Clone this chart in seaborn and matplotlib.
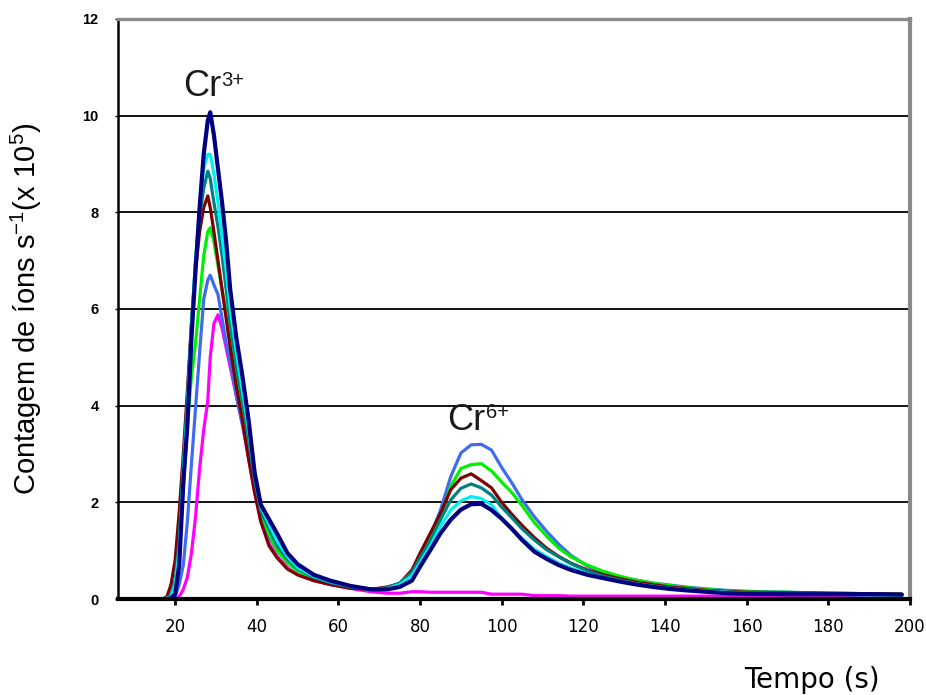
import matplotlib
matplotlib.use("Agg")
import matplotlib.pyplot as plt
import seaborn as sns
import pandas as pd

# ---- data ----
tempo = [17, 18, 19, 20, 21, 22, 23, 24, 25, 26,
         27, 28, 28.6, 29.5, 30.5, 31.5, 32.5, 33.5, 35, 36.5,
         38, 39.5, 41, 43, 45, 47.5, 50, 54, 58, 63,
         68, 72, 75, 78, 80, 82.5, 85, 87.5, 90, 92.5,
         95, 97.5, 100, 102.5, 105, 108, 111, 114, 117, 121,
         125, 129, 133, 137, 141, 145, 150, 155, 160, 170,
         180, 190, 198]

navy = [0, 0, 0.02, 0.1, 0.7, 2.4, 3.6, 5.4, 6.8, 8.1,
        9.2, 9.9, 10.07, 9.6, 8.9, 8.2, 7.4, 6.4, 5.4, 4.6,
        3.7, 2.6, 1.95, 1.65, 1.35, 0.95, 0.72, 0.5, 0.38, 0.27,
        0.2, 0.2, 0.25, 0.38, 0.67, 1.01, 1.36, 1.64, 1.85, 1.96,
        1.97, 1.84, 1.66, 1.45, 1.22, 0.98, 0.83, 0.7, 0.6, 0.5,
        0.43, 0.36, 0.3, 0.25, 0.21, 0.18, 0.15, 0.12, 0.11, 0.1,
        0.1, 0.1, 0.09]

ciano = [0, 0.02, 0.05, 0.3, 1.0, 2.6, 3.9, 5.6, 7.0, 8.1,
         8.9, 9.2, 9.2, 8.8, 8.2, 7.5, 6.8, 6.0, 5.1, 4.3,
         3.5, 2.55, 1.9, 1.55, 1.2, 0.88, 0.65, 0.47, 0.36, 0.26,
         0.2, 0.22, 0.3, 0.48, 0.75, 1.1, 1.5, 1.84, 2.03, 2.12,
         2.08, 1.95, 1.67, 1.45, 1.25, 1.03, 0.88, 0.74, 0.64, 0.52,
         0.43, 0.37, 0.31, 0.26, 0.22, 0.19, 0.16, 0.14, 0.12, 0.11,
         0.1, 0.08, 0.07]

verde_azulado = [0, 0.03, 0.08, 0.4, 1.2, 2.8, 4.1, 5.7, 7.0, 7.9,
                 8.5, 8.85, 8.7, 8.2, 7.7, 7.1, 6.4, 5.7, 4.8, 4.1,
                 3.3, 2.45, 1.82, 1.45, 1.1, 0.82, 0.62, 0.45, 0.34, 0.25,
                 0.2, 0.23, 0.33, 0.55, 0.85, 1.2, 1.64, 2.05, 2.29, 2.38,
                 2.3, 2.15, 1.9, 1.68, 1.45, 1.22, 1.02, 0.87, 0.73, 0.58,
                 0.47, 0.39, 0.32, 0.27, 0.23, 0.2, 0.17, 0.15, 0.13, 0.12,
                 0.11, 0.1, 0.09]

marrom = [0, 0.05, 0.3, 0.8, 1.8, 3.0, 4.3, 5.7, 6.8, 7.6,
          8.1, 8.34, 8.1, 7.6, 7.0, 6.4, 5.8, 5.2, 4.4, 3.7,
          2.9, 2.2, 1.6, 1.1, 0.85, 0.62, 0.5, 0.38, 0.3, 0.22,
          0.2, 0.25, 0.32, 0.6, 0.95, 1.36, 1.77, 2.26, 2.5, 2.59,
          2.45, 2.3, 2.0, 1.75, 1.52, 1.27, 1.05, 0.88, 0.74, 0.6,
          0.5, 0.42, 0.35, 0.3, 0.25, 0.22, 0.18, 0.16, 0.14, 0.13,
          0.12, 0.11, 0.1]

verde = [0, 0.02, 0.05, 0.3, 1.0, 2.3, 3.6, 4.6, 5.3, 6.2,
         7.1, 7.6, 7.68, 7.4, 6.9, 6.4, 5.9, 5.4, 4.6, 3.9,
         3.2, 2.4, 1.75, 1.35, 1.0, 0.75, 0.58, 0.43, 0.33, 0.25,
         0.2, 0.22, 0.32, 0.55, 0.85, 1.25, 1.7, 2.33, 2.7, 2.78,
         2.8, 2.65, 2.42, 2.2, 1.93, 1.58, 1.3, 1.05, 0.87, 0.7,
         0.57, 0.47, 0.39, 0.33, 0.28, 0.24, 0.2, 0.17, 0.15, 0.14,
         0.12, 0.11, 0.1]

azul = [0, 0, 0.02, 0.05, 0.3, 0.7, 1.6, 2.8, 3.95, 5.1,
        6.2, 6.6, 6.7, 6.5, 6.3, 5.8, 5.3, 4.9, 4.2, 3.6,
        3.0, 2.3, 1.7, 1.3, 1.0, 0.76, 0.6, 0.45, 0.35, 0.26,
        0.2, 0.22, 0.3, 0.5, 0.8, 1.3, 1.84, 2.53, 3.02, 3.19,
        3.2, 3.08, 2.72, 2.4, 2.05, 1.7, 1.4, 1.13, 0.9, 0.68,
        0.53, 0.45, 0.39, 0.33, 0.29, 0.25, 0.21, 0.18, 0.16, 0.14,
        0.12, 0.11, 0.1]

magenta = [0, 0, 0, 0, 0.05, 0.2, 0.45, 0.95, 1.7, 2.7,
           3.5, 4.1, 5.0, 5.7, 5.88, 5.6, 5.2, 4.8, 4.2, 3.6,
           2.9, 2.2, 1.6, 1.15, 0.88, 0.65, 0.5, 0.38, 0.3, 0.22,
           0.15, 0.12, 0.12, 0.15, 0.15, 0.14, 0.14, 0.14, 0.14, 0.14,
           0.14, 0.1, 0.1, 0.1, 0.1, 0.07, 0.07, 0.07, 0.06, 0.06,
           0.06, 0.06, 0.06, 0.06, 0.06, 0.06, 0.06, 0.06, 0.06, 0.06,
           0.06, 0.06, 0.06]

series_names = ["magenta", "azul", "verde", "marrom", "verde_azulado", "ciano", "navy"]
series_values = [magenta, azul, verde, marrom, verde_azulado, ciano, navy]
cores = ["#FF00FF", "#3F6BF0", "#00F000", "#7F0000", "#008080", "#00F0F0", "#000080"]
larguras = [2.3, 2.3, 2.3, 2.3, 2.3, 2.3, 3.0]

xticks = [20, 40, 60, 80, 100, 120, 140, 160, 180, 200]
yticks = [0, 2, 4, 6, 8, 10, 12]

# ---- build long table ----
frames = []
for nome, vals in zip(series_names, series_values):
    assert len(vals) == len(tempo)
    frames.append(pd.DataFrame({"t": tempo, "v": vals, "serie": nome}))
df = pd.concat(frames, ignore_index=True)

sns.set_theme(style="white")
plt.rcParams["font.family"] = ["Liberation Sans", "DejaVu Sans"]

fig, ax = plt.subplots(figsize=(9.26, 6.95), dpi=100)
fig.subplots_adjust(left=0.1274, right=0.9827, top=0.9727, bottom=0.1381)

sns.lineplot(data=df, x="t", y="v", hue="serie", hue_order=series_names,
             palette=dict(zip(series_names, cores)), estimator=None,
             legend=False, ax=ax, linewidth=2.3)
for line, lw in zip(ax.lines, larguras):
    line.set_linewidth(lw)
    line.set_solid_joinstyle("round")

ax.set_xlim(6, 200)
ax.set_ylim(0, 12)
ax.set_xticks(xticks)
ax.set_yticks(yticks)
ax.set_xticklabels([str(v) for v in xticks], family=["DejaVu Sans"])
ax.set_yticklabels([str(v) for v in yticks])

ax.set_axisbelow(True)
ax.yaxis.grid(True, color="black", linewidth=1.3)
ax.xaxis.grid(False)

ax.spines["left"].set_color("black")
ax.spines["left"].set_linewidth(1.8)
ax.spines["bottom"].set_color("black")
ax.spines["bottom"].set_linewidth(3)
ax.spines["top"].set_color("#8a8a8a")
ax.spines["top"].set_linewidth(2.4)
ax.spines["right"].set_color("#8a8a8a")
ax.spines["right"].set_linewidth(3)

ax.tick_params(axis="x", bottom=True, direction="out", length=4, width=2,
               color="black", pad=10, labelsize=12, labelcolor="black")
ax.tick_params(axis="y", left=True, direction="out", length=2, width=1,
               color="black", pad=12, labelsize=10.5, labelcolor="black")
for lbl in ax.get_yticklabels():
    lbl.set_fontweight("bold")

ax.set_xlabel("")
ax.set_ylabel(r"Contagem de íons s$^{\mathregular{-1}}$(x 10$^{\mathregular{5}}$)",
              fontsize=21, color="black")
ax.yaxis.set_label_coords(-0.093, 0.50)

fig.text(812 / 926, 1 - 680 / 695, "Tempo (s)", ha="center", va="center",
         fontsize=20, color="black", family=["DejaVu Sans"])

# annotations
ann_font = ["Liberation Sans", "DejaVu Sans"]
ax.text(22.0, 10.41, "Cr", fontsize=26, ha="left", va="baseline",
        family=ann_font, color="#1a1a1a")
ax.text(31.4, 10.62, "3+", fontsize=14.5, ha="left", va="baseline",
        family=ann_font, color="#1a1a1a")
ax.text(86.6, 3.50, "Cr", fontsize=26, ha="left", va="baseline",
        family=ann_font, color="#1a1a1a")
ax.text(96.2, 3.74, "6+", fontsize=14.5, ha="left", va="baseline",
        family=ann_font, color="#1a1a1a")

fig.savefig("out.png", dpi=100)
